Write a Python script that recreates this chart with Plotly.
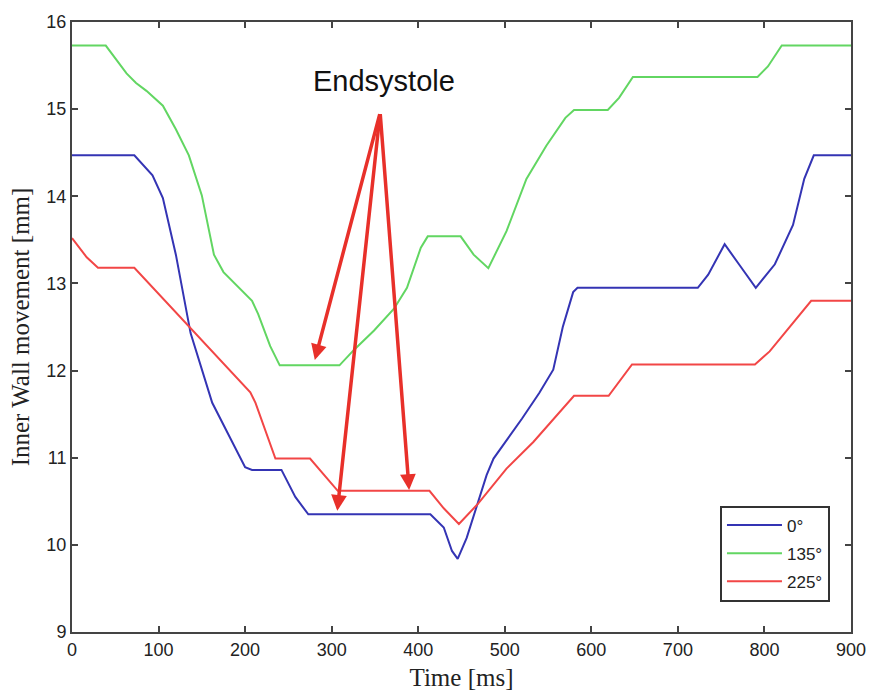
import plotly.graph_objects as go

# ---- data ----
blue_x = [0, 72, 93, 105, 120, 137, 162, 185, 200, 208, 242, 258, 273, 414, 429.5, 439, 445.6, 456, 468, 479, 487, 500, 520, 540, 556, 567, 579, 584, 723, 735, 754, 772, 790, 812, 823, 833, 846, 857, 900]
blue_y = [14.47, 14.47, 14.24, 13.98, 13.33, 12.43, 11.63, 11.18, 10.89, 10.86, 10.86, 10.55, 10.35, 10.35, 10.2, 9.93, 9.84, 10.08, 10.46, 10.8, 10.99, 11.17, 11.45, 11.745, 12.01, 12.5, 12.9, 12.95, 12.95, 13.1, 13.45, 13.2, 12.95, 13.22, 13.45, 13.67, 14.2, 14.47, 14.47]

green_x = [0, 39, 63, 74, 86, 105, 120, 135, 150, 164, 175, 208, 215, 229, 240, 309, 326, 349, 372, 387, 403, 411, 449, 464, 481, 502, 525, 548, 570, 580, 619, 632, 648, 792, 804, 820, 900]
green_y = [15.73, 15.73, 15.41, 15.30, 15.21, 15.04, 14.77, 14.47, 14.01, 13.33, 13.13, 12.80, 12.65, 12.28, 12.06, 12.06, 12.24, 12.46, 12.71, 12.95, 13.41, 13.54, 13.54, 13.33, 13.175, 13.6, 14.2, 14.58, 14.9, 14.99, 14.99, 15.13, 15.37, 15.37, 15.49, 15.73, 15.73]

red_x = [0, 17, 30, 72, 206, 212, 235, 275, 307, 413, 429.5, 447, 468, 502, 533, 580, 620, 647, 789, 806, 854, 900]
red_y = [13.52, 13.30, 13.18, 13.18, 11.75, 11.63, 10.99, 10.99, 10.62, 10.62, 10.42, 10.24, 10.46, 10.875, 11.18, 11.71, 11.71, 12.07, 12.07, 12.22, 12.80, 12.80]

series_names = ["0°", "135°", "225°"]
series_colors = ["#3434b4", "#62d662", "#f24646"]

annot_text = "Endsystole"
annot_pos = (361, 15.32)
arrow_tail = (356, 14.96)
arrow_tips = [(280.5, 12.12), (306.5, 10.39), (389.5, 10.63)]

x_ticks = [0, 100, 200, 300, 400, 500, 600, 700, 800, 900]
y_ticks = [9, 10, 11, 12, 13, 14, 15, 16]

fig = go.Figure()
for i, (xs, ys) in enumerate([(blue_x, blue_y), (green_x, green_y), (red_x, red_y)]):
    fig.add_trace(go.Scatter(x=xs, y=ys, mode="lines", name=series_names[i],
                             legendgroup=series_names[i],
                             line=dict(color=series_colors[i], width=2)))

annotations = [dict(x=annot_pos[0], y=annot_pos[1], xref="x", yref="y", text=annot_text,
                    showarrow=False, font=dict(family="Liberation Sans, Arial", size=29, color="#111"))]
for tx, ty in arrow_tips:
    annotations.append(dict(x=tx, y=ty, xref="x", yref="y", ax=arrow_tail[0], ay=arrow_tail[1],
                            axref="x", ayref="y", text="", showarrow=True, arrowhead=2,
                            arrowsize=0.9, arrowwidth=3.5, arrowcolor="#e8302a"))

axis_common = dict(showline=True, linecolor="#444", linewidth=2, mirror="ticks",
                   ticks="inside", ticklen=6, tickwidth=1.5, tickcolor="#444",
                   showgrid=False, zeroline=False,
                   tickfont=dict(family="Liberation Sans, Arial", size=18, color="#222"))

fig.update_layout(
    width=878, height=699,
    margin=dict(l=72, r=21, t=15, b=67),
    plot_bgcolor="white", paper_bgcolor="white",
    xaxis=dict(range=[0, 900], tickvals=x_ticks,
               title=dict(text="Time [ms]", font=dict(family="Liberation Serif, Times New Roman", size=25, color="#222"), standoff=10),
               **axis_common),
    yaxis=dict(range=[9, 16], tickvals=y_ticks,
               title=dict(text="Inner Wall movement [mm]", font=dict(family="Liberation Serif, Times New Roman", size=25, color="#222"), standoff=10),
               **axis_common),
    legend=dict(x=0.973, y=0.05, xanchor="right", yanchor="bottom",
                bordercolor="#333", borderwidth=2, bgcolor="white",
                font=dict(family="Liberation Sans, Arial", size=17, color="#222"),
                tracegroupgap=3, itemwidth=55),
    annotations=annotations,
)

fig.write_html("out.html")
